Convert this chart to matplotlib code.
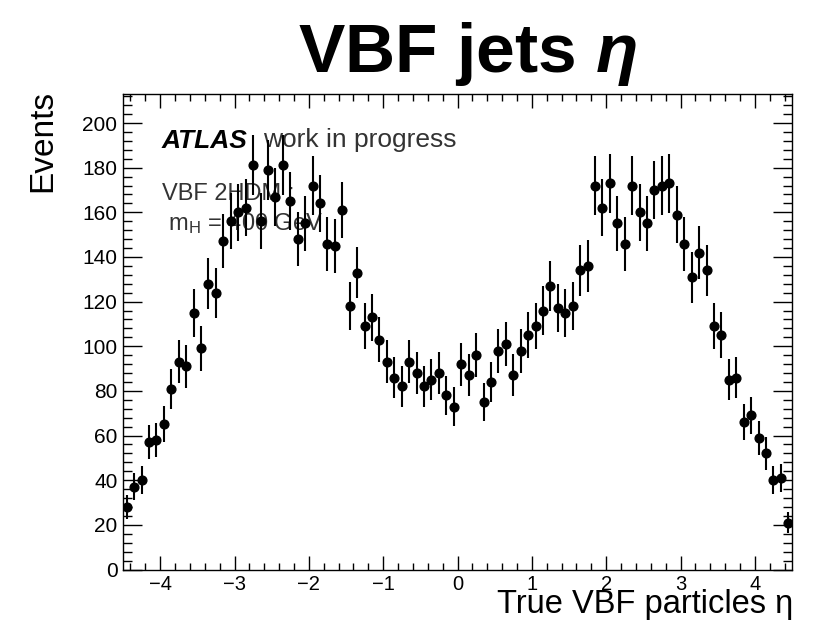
import numpy as np
import matplotlib
matplotlib.use("Agg")
import matplotlib.pyplot as plt
from matplotlib.ticker import MultipleLocator
from matplotlib import font_manager

# ---------------- data ----------------
bin_edges_range = (-4.5, 4.5)
n_bins = 90
counts = [28, 37, 40, 57, 58, 65, 81, 93, 91, 115,
          99, 128, 124, 147, 156, 160, 162, 181, 156, 179,
          167, 181, 165, 148, 155, 172, 164, 146, 145, 161,
          118, 133, 109, 113, 103, 93, 86, 82, 93, 88,
          82, 85, 88, 78, 73, 92, 87, 96, 75, 84,
          98, 101, 87, 98, 105, 109, 116, 127, 117, 115,
          118, 134, 136, 172, 162, 173, 155, 146, 172, 160,
          155, 170, 172, 173, 159, 146, 131, 142, 134, 109,
          105, 85, 86, 66, 69, 59, 52, 40, 41, 21]
x_ticks = [-4, -3, -2, -1, 0, 1, 2, 3, 4]
y_ticks = [0, 20, 40, 60, 80, 100, 120, 140, 160, 180, 200]
title_text = r"VBF jets $\eta$"
xlabel_text = "True VBF particles η"
ylabel_text = "Events"

# ---------------- fonts ----------------
avail = {f.name for f in font_manager.fontManager.ttflist}
sans = "Liberation Sans" if "Liberation Sans" in avail else "DejaVu Sans"
plt.rcParams["font.family"] = [sans, "DejaVu Sans"]
plt.rcParams["mathtext.fontset"] = "custom"
plt.rcParams["mathtext.rm"] = sans
plt.rcParams["mathtext.it"] = sans + ":italic:bold"
plt.rcParams["mathtext.bf"] = sans + ":bold"
plt.rcParams["axes.unicode_minus"] = True

W, H = 821, 625
fig = plt.figure(figsize=(W / 100, H / 100), dpi=100)
fig.patch.set_facecolor("white")

ax_l, ax_r, ax_t, ax_b = 123, 792, 94, 569.5
ax = fig.add_axes([ax_l / W, 1 - ax_b / H, (ax_r - ax_l) / W, (ax_b - ax_t) / H])

edges = np.linspace(bin_edges_range[0], bin_edges_range[1], n_bins + 1)
centers = 0.5 * (edges[:-1] + edges[1:])
vals = np.array(counts, dtype=float)
errs = np.sqrt(vals)

ax.errorbar(centers, vals, yerr=errs, fmt="o", color="black", ms=6.3,
            elinewidth=1.5, capsize=0, zorder=3)

ax.set_xlim(*bin_edges_range)
ax.set_ylim(0, 213)
ax.set_xticks(x_ticks)
ax.set_yticks(y_ticks)
ax.xaxis.set_minor_locator(MultipleLocator(0.2))
ax.yaxis.set_minor_locator(MultipleLocator(4))

ax.tick_params(axis="x", which="major", direction="in", length=10, width=1.0,
               top=True, bottom=True, labelsize=14.5, pad=4)
ax.tick_params(axis="x", which="minor", direction="in", length=5, width=1.0,
               top=True, bottom=True)
ax.tick_params(axis="y", which="major", direction="in", length=13.5, width=1.0,
               left=True, right=True, labelsize=15, pad=4)
ax.tick_params(axis="y", which="minor", direction="in", length=6.5, width=1.0,
               left=True, right=True)
for s in ax.spines.values():
    s.set_linewidth(1.0)

# text inside the frame (drawn beneath points)
ax.text(162 / W, 1 - 147.5 / H, "ATLAS", transform=fig.transFigure,
        fontsize=19, fontweight="bold", fontstyle="italic", color="black",
        ha="left", va="baseline", zorder=1)
ax.text(263 / W, 1 - 147.5 / H, "work in progress", transform=fig.transFigure,
        fontsize=19, color="#333333", ha="left", va="baseline", zorder=1)
ax.text(162 / W, 1 - 200 / H, "VBF 2HDM ;", transform=fig.transFigure,
        fontsize=17, color="#333333", ha="left", va="baseline", zorder=1)
ax.text(162 / W, 1 - 230 / H, r" m$_\mathrm{H}$ = 400 GeV", transform=fig.transFigure,
        fontsize=17, color="#333333", ha="left", va="baseline", zorder=1)

# titles / labels
fig.text(467 / W, 1 - 72 / H, title_text, ha="center", va="baseline",
         fontsize=50, fontweight="bold")
fig.text(43 / W, 1 - 90 / H, ylabel_text, rotation=90, ha="center", va="top",
         fontsize=24)
fig.text(793 / W, 1 - 613 / H, xlabel_text, ha="right", va="baseline",
         fontsize=23.5)

fig.savefig("out.png", dpi=100, facecolor="white")
